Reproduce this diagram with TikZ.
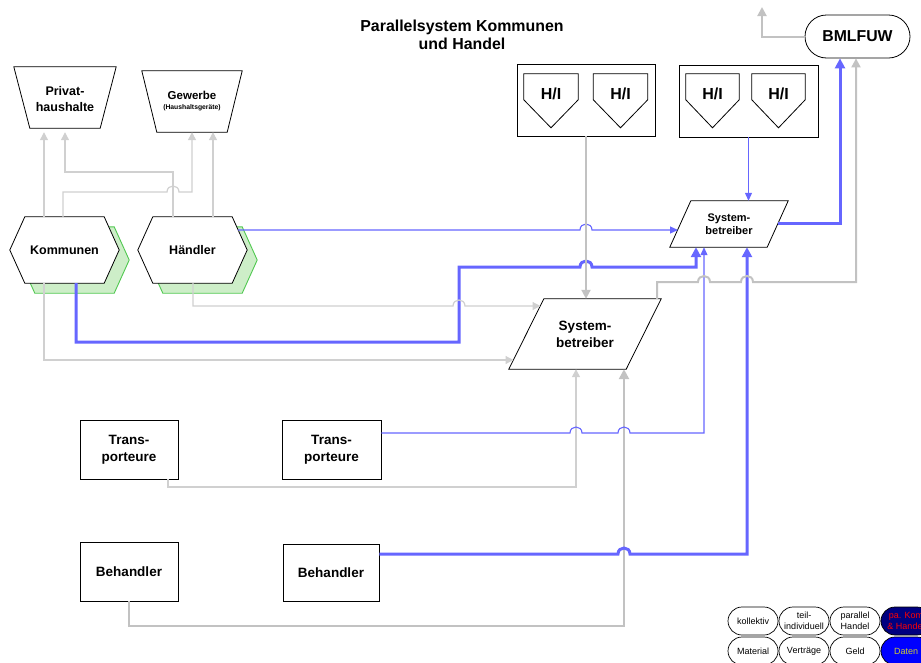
\documentclass[tikz,border=0pt]{standalone}
\usepackage{fontspec}
\setmainfont{Liberation Sans}
\usetikzlibrary{arrows.meta,backgrounds}

\definecolor{linegray}{RGB}{208,208,208}
\definecolor{flowgray}{RGB}{194,194,194}
\definecolor{datablue}{RGB}{102,102,255}
\definecolor{shadeedge}{RGB}{80,200,80}
\definecolor{shadefill}{RGB}{205,238,200}
\definecolor{legnavy}{RGB}{0,0,128}
\definecolor{legyellow}{RGB}{204,204,51}

\newcommand\fs[2]{\fontsize{#1}{#2}\selectfont}

% outlines built from the anchors of a (rectangular) node
\newcommand\hexoutline[3]{([shift={(#2,#3)}]#1.west) -- ([shift={(#2+15,#3)}]#1.north west) -- ([shift={(#2-15,#3)}]#1.north east) -- ([shift={(#2,#3)}]#1.east) -- ([shift={(#2-15,#3)}]#1.south east) -- ([shift={(#2+15,#3)}]#1.south west) -- cycle}
\newcommand\trapoutline[2]{(#1.north west) -- (#1.north east) -- ([xshift=-#2pt]#1.south east) -- ([xshift=#2pt]#1.south west) -- cycle}
\newcommand\slantoutline[2]{([xshift=#2pt]#1.north west) -- ([xshift=#2pt]#1.north east) -- ([xshift=-#2pt]#1.south east) -- ([xshift=-#2pt]#1.south west) -- cycle}
\newcommand\pentoutline[1]{(#1.north west) -- (#1.north east) -- ([yshift=-26pt]#1.north east) -- ([yshift=-54pt]#1.north) -- ([yshift=-26pt]#1.north west) -- cycle}

\begin{document}
\begin{tikzpicture}[x=1pt,y=-1pt,
  every node/.style={inner sep=0pt, align=center},
  sized/.style 2 args={minimum width=#1pt, minimum height=#2pt},
  rim/.style={draw=black, line width=0.8pt},
  plainbox/.style={rim, fill=white},
  legendkey/.style={draw=black, line width=0.7pt, fill=white, rounded corners=14pt,
    minimum width=50pt, minimum height=28pt, font=\fs{9}{10.5}},
  gthin/.style={draw=linegray, line width=1.2pt, -{Triangle[length=8pt,width=8pt]}},
  gmid/.style={draw=flowgray, line width=2pt, -{Triangle[length=9pt,width=9pt]}},
  gwide/.style={draw=flowgray, line width=2.6pt, -{Triangle[length=10pt,width=10pt]}},
  bthin/.style={draw=datablue, line width=1.1pt, -{Triangle[length=8pt,width=7pt]}},
  bwide/.style={draw=datablue, line width=3pt, -{Triangle[length=10pt,width=10pt]}},
  jumpover/.style 2 args={insert path={-- (#1-6,#2) .. controls (#1-6,#2-8) and (#1+6,#2-8) .. (#1+6,#2)}},
]
\useasboundingbox (0,0) rectangle (921,662);
\clip (0,0) rectangle (921,662);

% ---- nodes ----
\node[font=\bfseries\fs{15.9}{18}] (title) at (462,35) {Parallelsystem Kommunen\\und Handel};

\node[sized={102}{61}, font=\bfseries\fs{12.5}{16}] (pri) at (65,99.5) {Privat-\\haushalte};
\node[sized={100}{61}, font=\bfseries\fs{11.5}{13}] (gew) at (192,101.5) {Gewerbe\\[-3pt]{\fs{6.8}{8}(Haushaltsgeräte)}};

\node[sized={109}{66}, font=\bfseries\fs{12.5}{15}] (kom) at (64.5,250) {Kommunen};
\node[sized={109}{66}, font=\bfseries\fs{12.5}{15}] (hae) at (192.5,250) {Händler};

\node[rim, sized={138}{72}] (hib1) at (586,100) {};
\node[rim, sized={139}{72}] (hib2) at (748.5,101) {};
\node[sized={54}{40}, font=\bfseries\fs{16}{18}] (hi1) at (551,94) {H/I};
\node[sized={54}{40}, font=\bfseries\fs{16}{18}] (hi2) at (620.5,94) {H/I};
\node[sized={53}{40}, font=\bfseries\fs{16}{18}] (hi3) at (712.5,94) {H/I};
\node[sized={53}{40}, font=\bfseries\fs{16}{18}] (hi4) at (778.5,94) {H/I};

\node[rim, fill=white, rounded corners=21.5pt, sized={105}{43}, font=\bfseries\fs{15.8}{18}] (bml) at (857.5,36.5) {BMLFUW};

\node[sized={97}{46}, font=\bfseries\fs{11}{13}] (sbs) at (729,224) {System-\\betreiber};
\node[sized={117}{70}, font=\bfseries\fs{13.5}{17}] (sbl) at (585,334) {System-\\betreiber};

\node[plainbox, sized={98}{59}, font=\bfseries\fs{13.5}{17}] (tr1) at (129,449.5) {Trans-\\porteure};
\node[plainbox, sized={99}{59}, font=\bfseries\fs{13.5}{17}] (tr2) at (331.5,449.5) {Trans-\\porteure};
\node[plainbox, sized={98}{59}, font=\bfseries\fs{13.5}{17}] (be1) at (129,571.5) {Behandler};
\node[plainbox, sized={96}{57}, font=\bfseries\fs{13.5}{17}] (be2) at (331,572.5) {Behandler};

% legend keys
\node[legendkey] (lg1) at (753,621) {kollektiv};
\node[legendkey] (lg2) at (804,621) {teil-\\individuell};
\node[legendkey] (lg3) at (855,621) {parallel\\Handel};
\node[legendkey, fill=legnavy, text=red] (lg4) at (906,621) {pa. Kom\\\& Handel};
\node[legendkey] (lg5) at (753,651) {Material};
\node[legendkey] (lg6) at (804,651) {Verträge};
\node[legendkey] (lg7) at (855,651) {Geld};
\node[legendkey, fill=blue, text=legyellow] (lg8) at (906,651) {Daten};

% ---- shape outlines behind the labels ----
\begin{scope}[on background layer]
  \fill[shadefill] \hexoutline{kom}{10}{10};
  \draw[shadeedge, line width=0.9pt] \hexoutline{kom}{10}{10};
  \fill[shadefill] \hexoutline{hae}{10}{10};
  \draw[shadeedge, line width=0.9pt] \hexoutline{hae}{10}{10};
  \filldraw[fill=white, rim] \hexoutline{kom}{0}{0};
  \filldraw[fill=white, rim] \hexoutline{hae}{0}{0};
  \filldraw[fill=white, rim] ([yshift=2pt]pri.north west) -- ([yshift=2pt]pri.north east) -- ([shift={(-16,-2)}]pri.south east) -- ([shift={(16,-2)}]pri.south west) -- cycle;
  \filldraw[fill=white, rim] \trapoutline{gew}{15};
  \filldraw[fill=white, rim] \slantoutline{sbs}{10.5};
  \filldraw[fill=white, rim] \slantoutline{sbl}{17.5};
  \filldraw[fill=white, rim] \pentoutline{hi1};
  \filldraw[fill=white, rim] \pentoutline{hi2};
  \filldraw[fill=white, rim] \pentoutline{hi3};
  \filldraw[fill=white, rim] \pentoutline{hi4};
\end{scope}

% ---- flows to households and trade ----
\draw[gthin] (44,0 |- kom.north) -- (44,0 |- gew.south);
\draw[gthin] (63,0 |- kom.north) -- (63,192) [jumpover={173}{192}] -| (gew.south);
\draw[gthin] (173,0 |- hae.north) |- (65,172) -- (65,0 |- gew.south);
\draw[gthin] (213,0 |- hae.north) -- (213,0 |- gew.south);

% ---- flows to the system operators ----
\draw[bthin] ([shift={(-9,-20)}]hae.east) [jumpover={586}{230}] -- ([shift={(-51,6)}]sbs.center);
\draw[bwide] (76,0 |- kom.south) |- (459,342) -- (459,267) [jumpover={586}{267}] -| (696,0 |- sbs.south);
\draw[gthin] (193,0 |- hae.south) -- (193,306) [jumpover={459}{306}] -- ([shift={(-44.5,-28)}]sbl.center);
\draw[gthin] (44,0 |- kom.south) |- ([shift={(-71.5,26)}]sbl.center);

\draw[gmid] (hib1.south) -- (hib1.south |- sbl.north);
\draw[bthin] (hib2.south) -- (hib2.south |- sbs.north);

\draw[gthin, line width=1.5pt] (168,0 |- tr1.south) |- (576,487) -- (576,0 |- sbl.south);
\draw[gwide] (129,0 |- be1.south) |- (624,626) -- (624,0 |- sbl.south);
\draw[bthin] (tr2.east |- 0,433) [jumpover={576}{433}] [jumpover={624}{433}] -| (704,0 |- sbs.south);
\draw[bwide] (be2.east |- 0,554) [jumpover={624}{554}] -| (747,0 |- sbs.south);

% ---- reporting to the ministry ----
\draw[bwide] ([shift={(49,-1)}]sbs.center) -| (840,0 |- bml.south);
\draw[gmid] ([xshift=72pt]sbl.north) -- (657,282) [jumpover={704}{282}] [jumpover={747}{282}] -| (856,0 |- bml.south);
\coordinate (upout) at (762,7);
\draw[gmid] (bml.west) -| (upout);
\end{tikzpicture}
\end{document}
